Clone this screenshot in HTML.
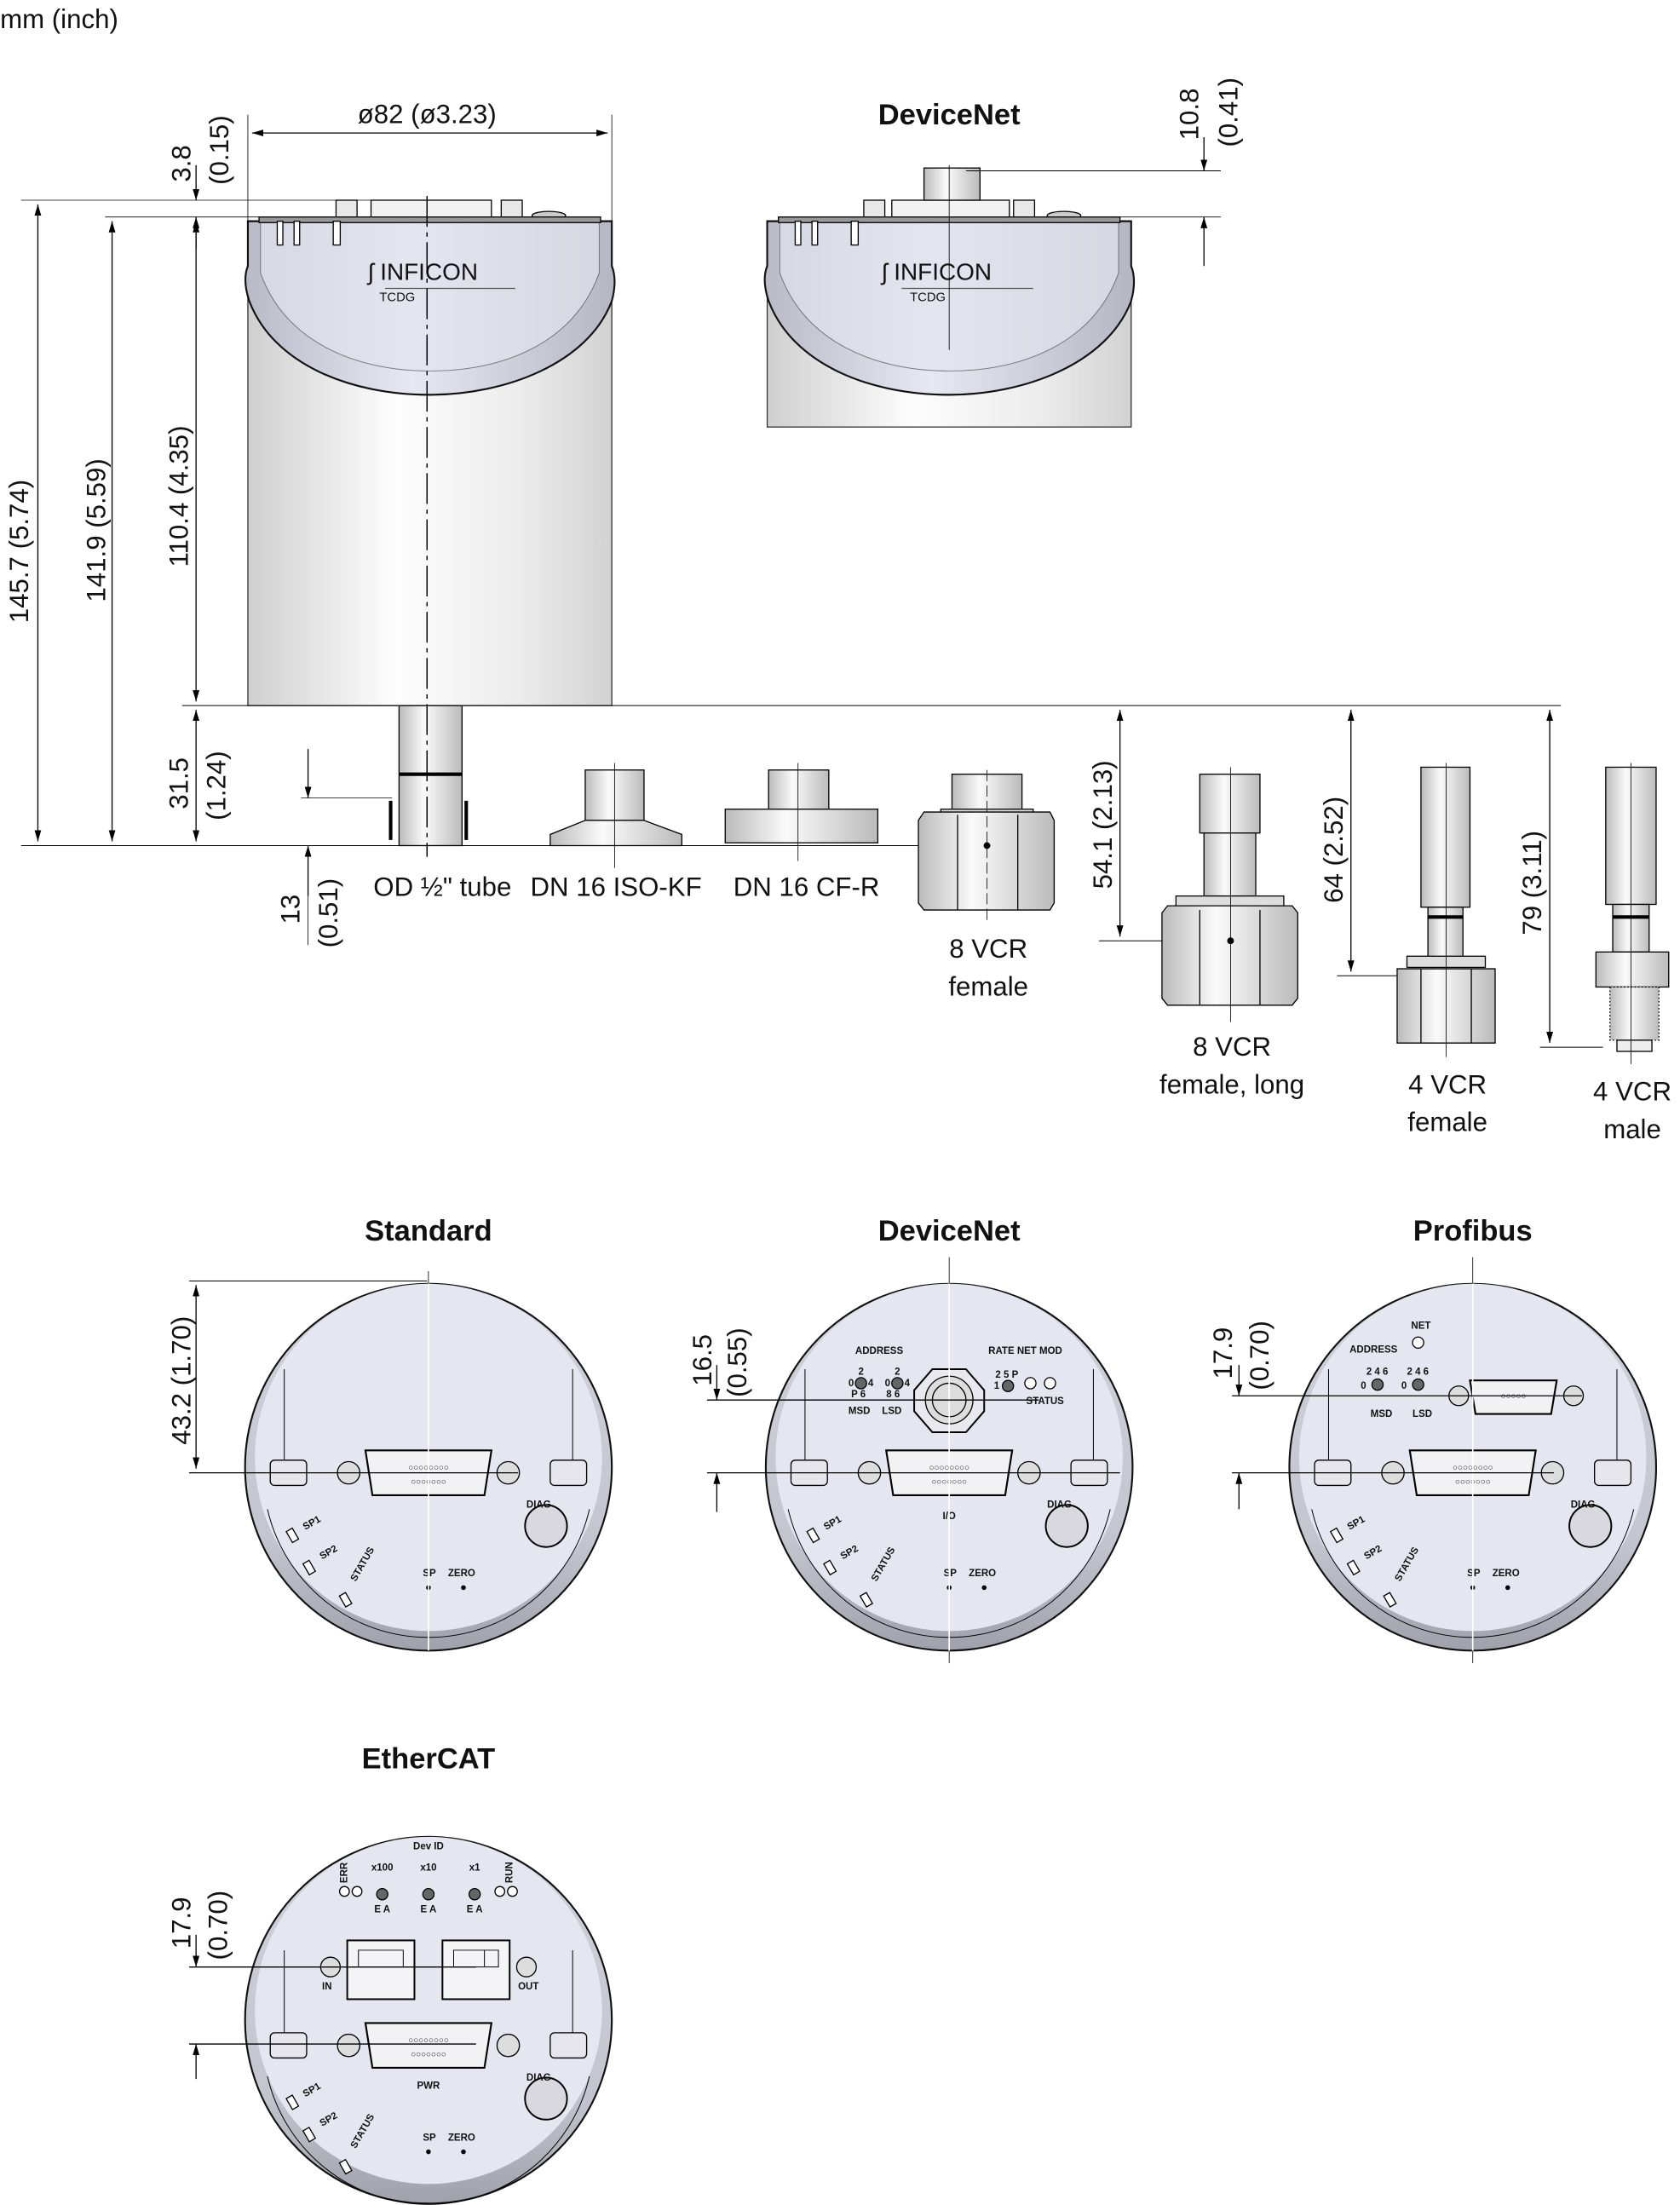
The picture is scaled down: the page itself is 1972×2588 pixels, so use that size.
<!DOCTYPE html>
<html><head><meta charset="utf-8"><style>
html,body{margin:0;padding:0;background:#fff}
svg{display:block}
text{font-family:"Liberation Sans",sans-serif;fill:#111}
.d{font-size:19px}
.t{font-size:21px;font-weight:bold}
.s{font-size:7px;font-weight:bold}
</style></head><body>
<svg width="1972" height="2588" viewBox="0 0 1200 1575" xmlns="http://www.w3.org/2000/svg">
<defs>
<linearGradient id="bd" x1="0" x2="1" y1="0" y2="0"><stop offset="0" stop-color="#cfcfcf"/><stop offset=".4" stop-color="#fdfdfd"/><stop offset=".75" stop-color="#ececec"/><stop offset="1" stop-color="#d2d2d2"/></linearGradient>
<linearGradient id="cp" x1="0" x2="1" y1="0" y2="0"><stop offset="0" stop-color="#b8bac6"/><stop offset=".45" stop-color="#e6e8f2"/><stop offset="1" stop-color="#b4b6c2"/></linearGradient>
<linearGradient id="tb" x1="0" x2="1" y1="0" y2="0"><stop offset="0" stop-color="#bbb"/><stop offset=".4" stop-color="#fafafa"/><stop offset="1" stop-color="#bbb"/></linearGradient>
<linearGradient id="fr" x1="0" x2="0" y1="0" y2="1"><stop offset="0" stop-color="#d0d1da"/><stop offset=".7" stop-color="#c4c5ce"/><stop offset="1" stop-color="#a0a1aa"/></linearGradient>
<marker id="a" viewBox="0 0 10 10" refX="10" refY="5" markerWidth="8" markerHeight="8" orient="auto-start-reverse" markerUnits="userSpaceOnUse"><path d="M0,2 L10,5 L0,8 z" fill="#000"/></marker>
</defs>
<g stroke="#000" stroke-width="0.8" fill="none">
<text x="0" y="20" class="d" stroke="none">mm (inch)</text>

<!-- main body -->
<rect x="177" y="158" width="260" height="346" fill="url(#bd)" stroke="#333"/>
<path d="M177,158 L437,158 L437,190 Q441,200 437,215 C420,260 360,282 307,282 C250,282 195,260 178,215 Q173,200 177,190 Z" fill="url(#cp)" stroke="#111" stroke-width="1.3"/>
<path d="M186,158 L428,158 L428,195 C410,245 360,265 307,265 C255,265 204,245 186,195 Z" fill="#e2e4ee" stroke="#555" stroke-width=".6" opacity=".7"/>
<rect x="265" y="143" width="86" height="13" fill="#f2f2f2"/>
<rect x="240" y="143" width="15" height="13" fill="#e8e8e8"/><rect x="358" y="143" width="15" height="13" fill="#e8e8e8"/>
<ellipse cx="392" cy="154" rx="12" ry="3" fill="#ccc"/>
<rect x="185" y="155" width="244" height="4" fill="#999"/>
<rect x="198" y="158" width="4" height="17" fill="#fff"/><rect x="210" y="158" width="4" height="17" fill="#fff"/><rect x="238" y="158" width="5" height="17" fill="#fff"/>
<text x="263" y="200" font-size="17" stroke="none" fill="#555">ʃ INFICON</text>
<line x1="275" y1="206" x2="368" y2="206" stroke="#555"/>
<text x="271" y="215" font-size="9" stroke="none" fill="#555">TCDG</text>
<!-- tube -->
<rect x="285" y="504" width="45" height="100" fill="url(#tb)"/>
<line x1="285" y1="553" x2="330" y2="553" stroke-width="2.5"/>
<line x1="279" y1="572" x2="279" y2="600" stroke-width="2.5"/><line x1="333" y1="572" x2="333" y2="600" stroke-width="2.5"/>
<line x1="305" y1="140" x2="305" y2="612" stroke-dasharray="22,4,3,4" stroke-width=".9"/>

<!-- dims main -->
<line x1="177" y1="82" x2="177" y2="158" stroke-width=".5"/><line x1="437" y1="82" x2="437" y2="158" stroke-width=".5"/>
<line x1="180" y1="95" x2="434" y2="95" marker-start="url(#a)" marker-end="url(#a)"/>
<text x="305" y="88" class="d" text-anchor="middle" stroke="none">ø82 (ø3.23)</text>
<line x1="15" y1="143" x2="265" y2="143" stroke-width=".5"/>
<line x1="75" y1="155" x2="185" y2="155" stroke-width=".5"/>
<line x1="140" y1="118" x2="140" y2="143" marker-end="url(#a)"/>
<line x1="140" y1="178" x2="140" y2="155" marker-end="url(#a)"/>
<text transform="translate(136,130) rotate(-90)" class="d" stroke="none">3.8</text>
<text transform="translate(163,132) rotate(-90)" class="d" stroke="none">(0.15)</text>
<line x1="27" y1="146" x2="27" y2="601" marker-start="url(#a)" marker-end="url(#a)"/>
<text transform="translate(20,445) rotate(-90)" class="d" stroke="none">145.7 (5.74)</text>
<line x1="80" y1="158" x2="80" y2="601" marker-start="url(#a)" marker-end="url(#a)"/>
<text transform="translate(75,430) rotate(-90)" class="d" stroke="none">141.9 (5.59)</text>
<line x1="140" y1="158" x2="140" y2="501" marker-start="url(#a)" marker-end="url(#a)"/>
<text transform="translate(134,405) rotate(-90)" class="d" stroke="none">110.4 (4.35)</text>
<line x1="140" y1="507" x2="140" y2="601" marker-start="url(#a)" marker-end="url(#a)"/>
<text transform="translate(134,578) rotate(-90)" class="d" stroke="none">31.5</text>
<text transform="translate(161,586) rotate(-90)" class="d" stroke="none">(1.24)</text>
<line x1="130" y1="504" x2="1115" y2="504" stroke-width=".6"/>
<line x1="15" y1="604" x2="705" y2="604" stroke-width=".6"/>
<line x1="215" y1="570" x2="280" y2="570" stroke-width=".5"/>
<line x1="220" y1="535" x2="220" y2="570" marker-end="url(#a)"/>
<line x1="220" y1="640" x2="220" y2="604" marker-end="url(#a)"/>
<line x1="220" y1="640" x2="220" y2="675" stroke-width=".5"/>
<text transform="translate(214,660) rotate(-90)" class="d" stroke="none">13</text>
<text transform="translate(241,677) rotate(-90)" class="d" stroke="none">(0.51)</text>
<text x="316" y="640" class="d" text-anchor="middle" stroke="none">OD ½" tube</text>
<text x="440" y="640" class="d" text-anchor="middle" stroke="none">DN 16 ISO-KF</text>
<text x="576" y="640" class="d" text-anchor="middle" stroke="none">DN 16 CF-R</text>

<!-- ISO-KF -->
<rect x="418" y="550" width="42" height="36" fill="url(#tb)"/>
<path d="M418,586 L460,586 L487,596 L487,604 L393,604 L393,596 Z" fill="url(#tb)"/>
<line x1="439" y1="545" x2="439" y2="620" stroke-width=".5"/>
<!-- CF-R -->
<rect x="549" y="550" width="43" height="29" fill="url(#tb)"/>
<rect x="518" y="578" width="109" height="24" fill="url(#tb)"/>
<line x1="570" y1="545" x2="570" y2="615" stroke-width=".5"/>
<!-- 8VCR female -->
<rect x="680" y="553" width="50" height="26" fill="url(#tb)"/>
<rect x="672" y="578" width="66" height="8" fill="#ddd"/>
<path d="M656,586 L660,580 L750,580 L753,586 L753,645 L750,650 L660,650 L656,645 Z" fill="url(#tb)"/>
<line x1="684" y1="582" x2="684" y2="650"/><line x1="727" y1="582" x2="727" y2="650"/>
<circle cx="705" cy="604" r="2" fill="#000"/>
<line x1="705" y1="550" x2="705" y2="660" stroke-width=".5" stroke-dasharray="8,3"/>
<text x="706" y="684" class="d" text-anchor="middle" stroke="none">8 VCR</text>
<text x="706" y="711" class="d" text-anchor="middle" stroke="none">female</text>

<!-- 54.1 -->
<line x1="800" y1="507" x2="800" y2="669" marker-start="url(#a)" marker-end="url(#a)"/>
<line x1="785" y1="672" x2="880" y2="672" stroke-width=".6"/>
<text transform="translate(794,635) rotate(-90)" class="d" stroke="none">54.1 (2.13)</text>
<rect x="857" y="553" width="43" height="42" fill="url(#tb)"/>
<rect x="860" y="595" width="37" height="45" fill="url(#tb)"/>
<rect x="840" y="640" width="77" height="8" fill="#ddd"/>
<path d="M830,652 L834,647 L923,647 L927,652 L927,713 L923,718 L834,718 L830,713 Z" fill="url(#tb)"/>
<line x1="857" y1="650" x2="857" y2="718"/><line x1="900" y1="650" x2="900" y2="718"/>
<circle cx="879" cy="672" r="2" fill="#000"/>
<line x1="879" y1="548" x2="879" y2="730" stroke-width=".5"/>
<text x="880" y="754" class="d" text-anchor="middle" stroke="none">8 VCR</text>
<text x="880" y="781" class="d" text-anchor="middle" stroke="none">female, long</text>

<!-- 64 -->
<line x1="965" y1="507" x2="965" y2="694" marker-start="url(#a)" marker-end="url(#a)"/>
<line x1="955" y1="697" x2="1050" y2="697" stroke-width=".6"/>
<text transform="translate(959,645) rotate(-90)" class="d" stroke="none">64 (2.52)</text>
<rect x="1015" y="548" width="35" height="100" fill="url(#tb)"/>
<rect x="1020" y="648" width="25" height="36" fill="url(#tb)"/>
<line x1="1020" y1="655" x2="1045" y2="655" stroke-width="2.5"/>
<rect x="1005" y="683" width="56" height="8" fill="#ddd"/>
<path d="M998,692 L1068,692 L1068,745 L998,745 Z" fill="url(#tb)"/>
<line x1="1015" y1="692" x2="1015" y2="745"/><line x1="1051" y1="692" x2="1051" y2="745"/>
<line x1="1033" y1="545" x2="1033" y2="755" stroke-width=".5"/>
<text x="1034" y="781" class="d" text-anchor="middle" stroke="none">4 VCR</text>
<text x="1034" y="808" class="d" text-anchor="middle" stroke="none">female</text>

<!-- 79 -->
<line x1="1107" y1="507" x2="1107" y2="745" marker-start="url(#a)" marker-end="url(#a)"/>
<line x1="1100" y1="748" x2="1145" y2="748" stroke-width=".6"/>
<text transform="translate(1101,668) rotate(-90)" class="d" stroke="none">79 (3.11)</text>
<rect x="1147" y="548" width="36" height="98" fill="url(#tb)"/>
<rect x="1152" y="646" width="26" height="34" fill="url(#tb)"/>
<line x1="1152" y1="655" x2="1178" y2="655" stroke-width="2.5"/>
<rect x="1140" y="680" width="52" height="25" fill="url(#tb)"/>
<rect x="1150" y="705" width="35" height="38" fill="url(#tb)" stroke-dasharray="1,1.5"/>
<rect x="1155" y="743" width="25" height="8" fill="#eee"/>
<line x1="1165" y1="545" x2="1165" y2="760" stroke-width=".5"/>
<text x="1166" y="786" class="d" text-anchor="middle" stroke="none">4 VCR</text>
<text x="1166" y="813" class="d" text-anchor="middle" stroke="none">male</text>

<!-- DeviceNet side -->
<text x="678" y="89" class="t" text-anchor="middle" stroke="none">DeviceNet</text>
<rect x="548" y="158" width="260" height="147" fill="url(#bd)" stroke="#333"/>
<path d="M548,158 L808,158 L808,190 Q812,200 808,215 C791,260 731,282 678,282 C621,282 566,260 549,215 Q544,200 548,190 Z" fill="url(#cp)" stroke="#111" stroke-width="1.3"/>
<path d="M557,158 L799,158 L799,195 C781,245 731,265 678,265 C626,265 575,245 557,195 Z" fill="#e2e4ee" stroke="#555" stroke-width=".6" opacity=".7"/>
<rect x="637" y="143" width="84" height="13" fill="#f2f2f2"/>
<rect x="617" y="143" width="15" height="13" fill="#e8e8e8"/><rect x="724" y="143" width="15" height="13" fill="#e8e8e8"/>
<rect x="660" y="120" width="40" height="23" fill="url(#tb)"/>
<ellipse cx="760" cy="154" rx="12" ry="3" fill="#ccc"/>
<rect x="556" y="155" width="244" height="4" fill="#999"/>
<rect x="568" y="158" width="4" height="17" fill="#fff"/><rect x="580" y="158" width="4" height="17" fill="#fff"/><rect x="608" y="158" width="5" height="17" fill="#fff"/>
<text x="630" y="200" font-size="17" stroke="none" fill="#555">ʃ INFICON</text>
<line x1="644" y1="206" x2="738" y2="206" stroke="#555"/>
<text x="650" y="215" font-size="9" stroke="none" fill="#555">TCDG</text>
<line x1="678" y1="118" x2="678" y2="250" stroke-width=".5"/>
<line x1="690" y1="122" x2="872" y2="122" stroke-width=".6"/>
<line x1="795" y1="155" x2="872" y2="155" stroke-width=".6"/>
<line x1="860" y1="98" x2="860" y2="122" marker-end="url(#a)"/>
<line x1="860" y1="190" x2="860" y2="155" marker-end="url(#a)"/>
<text transform="translate(856,100) rotate(-90)" class="d" stroke="none">10.8</text>
<text transform="translate(884,105) rotate(-90)" class="d" stroke="none">(0.41)</text>

<!-- ===== front views ===== -->
<text x="306" y="886" class="t" text-anchor="middle" stroke="none">Standard</text>
<text x="678" y="886" class="t" text-anchor="middle" stroke="none">DeviceNet</text>
<text x="1052" y="886" class="t" text-anchor="middle" stroke="none">Profibus</text>
<text x="306" y="1263" class="t" text-anchor="middle" stroke="none">EtherCAT</text>

<!-- Standard base -->
<g transform="translate(306,1048)">
<circle r="131" fill="url(#fr)" stroke="#111" stroke-width="1.3"/>
<circle cy="-7" r="124" fill="#e5e6ef" stroke="none"/>
<path d="M-103,-70 L-103,-5 M103,-70 L103,-5" stroke-width=".6"/>
<path d="M-115,30 A118,118 0 0 0 115,30" stroke-width=".6"/>
<rect x="-113" y="-5" width="26" height="18" rx="3" fill="#e6e6ec"/><rect x="87" y="-5" width="26" height="18" rx="3" fill="#e6e6ec"/>
<path d="M-45,-12 L45,-12 L40,20 L-40,20 Z" fill="#f2f2f4" stroke-width="1.3"/>
<circle cx="-57" cy="4" r="8" fill="#ddd"/><circle cx="57" cy="4" r="8" fill="#ddd"/>
<text x="0" y="2" font-size="6" text-anchor="middle" stroke="none">○○○○○○○○</text><text x="0" y="12" font-size="6" text-anchor="middle" stroke="none">○○○○○○○</text>
<circle cx="84" cy="42" r="15" fill="#d8d8de" stroke-width="1.2"/><text x="70" y="29" class="s" stroke="none">DIAG</text>
<rect x="-100" y="44" width="5" height="9" transform="rotate(-30 -97 48)" fill="#fff"/>
<rect x="-88" y="67" width="5" height="9" transform="rotate(-30 -85 71)" fill="#fff"/>
<rect x="-62" y="90" width="5" height="9" transform="rotate(-30 -59 94)" fill="#fff"/>
<text transform="translate(-88,45) rotate(-30)" class="s" stroke="none">SP1</text>
<text transform="translate(-76,66) rotate(-30)" class="s" stroke="none">SP2</text>
<text transform="translate(-52,82) rotate(-60)" class="s" stroke="none">STATUS</text>
<text x="-4" y="78" class="s" stroke="none">SP</text><text x="14" y="78" class="s" stroke="none">ZERO</text>
<circle cx="0" cy="86" r="1.3" fill="#000"/><circle cx="25" cy="86" r="1.3" fill="#000"/>
<line x1="0" y1="-140" x2="0" y2="131" stroke="#fff" stroke-width="1"/><line x1="0" y1="-140" x2="0" y2="-131" stroke-width=".5"/>
</g>
<line x1="135" y1="915" x2="305" y2="915" stroke-width=".6"/>
<line x1="135" y1="1052" x2="370" y2="1052" stroke-width=".8"/>
<line x1="140" y1="918" x2="140" y2="1049" marker-start="url(#a)" marker-end="url(#a)"/>
<text transform="translate(136,1032) rotate(-90)" class="d" stroke="none">43.2 (1.70)</text>

<!-- DeviceNet front -->
<g transform="translate(678,1048)">
<circle r="131" fill="url(#fr)" stroke="#111" stroke-width="1.3"/>
<circle cy="-7" r="124" fill="#e5e6ef" stroke="none"/>
<path d="M-103,-70 L-103,-5 M103,-70 L103,-5" stroke-width=".6"/>
<path d="M-115,30 A118,118 0 0 0 115,30" stroke-width=".6"/>
<rect x="-113" y="-5" width="26" height="18" rx="3" fill="#e6e6ec"/><rect x="87" y="-5" width="26" height="18" rx="3" fill="#e6e6ec"/>
<path d="M-45,-12 L45,-12 L40,20 L-40,20 Z" fill="#f2f2f4" stroke-width="1.3"/>
<circle cx="-57" cy="4" r="8" fill="#ddd"/><circle cx="57" cy="4" r="8" fill="#ddd"/>
<text x="0" y="2" font-size="6" text-anchor="middle" stroke="none">○○○○○○○○</text><text x="0" y="12" font-size="6" text-anchor="middle" stroke="none">○○○○○○○</text>
<circle cx="84" cy="42" r="15" fill="#d8d8de" stroke-width="1.2"/><text x="70" y="29" class="s" stroke="none">DIAG</text>
<text x="0" y="37" class="s" text-anchor="middle" stroke="none">I/O</text>
<rect x="-100" y="44" width="5" height="9" transform="rotate(-30 -97 48)" fill="#fff"/>
<rect x="-88" y="67" width="5" height="9" transform="rotate(-30 -85 71)" fill="#fff"/>
<rect x="-62" y="90" width="5" height="9" transform="rotate(-30 -59 94)" fill="#fff"/>
<text transform="translate(-88,45) rotate(-30)" class="s" stroke="none">SP1</text>
<text transform="translate(-76,66) rotate(-30)" class="s" stroke="none">SP2</text>
<text transform="translate(-52,82) rotate(-60)" class="s" stroke="none">STATUS</text>
<text x="-4" y="78" class="s" stroke="none">SP</text><text x="14" y="78" class="s" stroke="none">ZERO</text>
<circle cx="0" cy="86" r="1.3" fill="#000"/><circle cx="25" cy="86" r="1.3" fill="#000"/>
<path d="M-12,-70 L12,-70 L25,-55 L25,-40 L12,-25 L-12,-25 L-25,-40 L-25,-55 Z" fill="#e8e8ee" stroke-width="1.2"/>
<circle cx="0" cy="-48" r="17" fill="#ddd"/><circle cx="0" cy="-48" r="12"/>
<text x="-50" y="-81" class="s" text-anchor="middle" stroke="none">ADDRESS</text>
<circle cx="-63" cy="-60" r="4" fill="#666"/><circle cx="-37" cy="-60" r="4" fill="#666"/>
<text x="-63" y="-66" class="s" text-anchor="middle" stroke="none">2</text><text x="-37" y="-66" class="s" text-anchor="middle" stroke="none">2</text>
<text x="-72" y="-58" class="s" stroke="none">0</text><text x="-58" y="-58" class="s" stroke="none">4</text>
<text x="-46" y="-58" class="s" stroke="none">0</text><text x="-32" y="-58" class="s" stroke="none">4</text>
<text x="-70" y="-50" class="s" stroke="none">P  6</text><text x="-45" y="-50" class="s" stroke="none">8  6</text>
<text x="-72" y="-38" class="s" stroke="none">MSD</text><text x="-48" y="-38" class="s" stroke="none">LSD</text>
<text x="28" y="-81" class="s" stroke="none">RATE  NET  MOD</text>
<circle cx="42" cy="-58" r="4" fill="#666"/><text x="33" y="-64" class="s" stroke="none">2 5 P</text><text x="32" y="-56" class="s" stroke="none">1</text>
<circle cx="58" cy="-60" r="4" fill="#fff"/><circle cx="72" cy="-60" r="4" fill="#fff"/>
<text x="55" y="-45" class="s" stroke="none">STATUS</text>
<line x1="0" y1="-150" x2="0" y2="140" stroke="#fff" stroke-width="1"/><line x1="0" y1="-150" x2="0" y2="-131" stroke-width=".5"/><line x1="0" y1="131" x2="0" y2="140" stroke-width=".5"/>
</g>
<line x1="505" y1="1000" x2="742" y2="1000" stroke-width=".8"/>
<line x1="505" y1="1052" x2="800" y2="1052" stroke-width=".8"/>
<line x1="512" y1="975" x2="512" y2="1000" marker-end="url(#a)"/>
<line x1="512" y1="1080" x2="512" y2="1052" marker-end="url(#a)"/>
<text transform="translate(508,990) rotate(-90)" class="d" stroke="none">16.5</text>
<text transform="translate(533,998) rotate(-90)" class="d" stroke="none">(0.55)</text>

<!-- Profibus front -->
<g transform="translate(1052,1048)">
<circle r="131" fill="url(#fr)" stroke="#111" stroke-width="1.3"/>
<circle cy="-7" r="124" fill="#e5e6ef" stroke="none"/>
<path d="M-103,-70 L-103,-5 M103,-70 L103,-5" stroke-width=".6"/>
<path d="M-115,30 A118,118 0 0 0 115,30" stroke-width=".6"/>
<rect x="-113" y="-5" width="26" height="18" rx="3" fill="#e6e6ec"/><rect x="87" y="-5" width="26" height="18" rx="3" fill="#e6e6ec"/>
<path d="M-45,-12 L45,-12 L40,20 L-40,20 Z" fill="#f2f2f4" stroke-width="1.3"/>
<circle cx="-57" cy="4" r="8" fill="#ddd"/><circle cx="57" cy="4" r="8" fill="#ddd"/>
<text x="0" y="2" font-size="6" text-anchor="middle" stroke="none">○○○○○○○○</text><text x="0" y="12" font-size="6" text-anchor="middle" stroke="none">○○○○○○○</text>
<circle cx="84" cy="42" r="15" fill="#d8d8de" stroke-width="1.2"/><text x="70" y="29" class="s" stroke="none">DIAG</text>
<rect x="-100" y="44" width="5" height="9" transform="rotate(-30 -97 48)" fill="#fff"/>
<rect x="-88" y="67" width="5" height="9" transform="rotate(-30 -85 71)" fill="#fff"/>
<rect x="-62" y="90" width="5" height="9" transform="rotate(-30 -59 94)" fill="#fff"/>
<text transform="translate(-88,45) rotate(-30)" class="s" stroke="none">SP1</text>
<text transform="translate(-76,66) rotate(-30)" class="s" stroke="none">SP2</text>
<text transform="translate(-52,82) rotate(-60)" class="s" stroke="none">STATUS</text>
<text x="-4" y="78" class="s" stroke="none">SP</text><text x="14" y="78" class="s" stroke="none">ZERO</text>
<circle cx="0" cy="86" r="1.3" fill="#000"/><circle cx="25" cy="86" r="1.3" fill="#000"/>
<path d="M-2,-62 L60,-62 L56,-38 L2,-38 Z" fill="#f2f2f4" stroke-width="1.3"/>
<circle cx="-10" cy="-51" r="7" fill="#ddd"/><circle cx="72" cy="-51" r="7" fill="#ddd"/>
<text x="29" y="-49" font-size="6" text-anchor="middle" stroke="none">○○○○○</text>
<text x="-44" y="-99" class="s" stroke="none">NET</text><circle cx="-39" cy="-89" r="4" fill="#fff"/>
<text x="-88" y="-82" class="s" stroke="none">ADDRESS</text>
<circle cx="-68" cy="-59" r="4" fill="#666"/><circle cx="-39" cy="-59" r="4" fill="#666"/>
<text x="-76" y="-66" class="s" stroke="none">2 4 6</text><text x="-47" y="-66" class="s" stroke="none">2 4 6</text>
<text x="-80" y="-56" class="s" stroke="none">0</text><text x="-51" y="-56" class="s" stroke="none">0</text>
<text x="-73" y="-36" class="s" stroke="none">MSD</text><text x="-43" y="-36" class="s" stroke="none">LSD</text>
<line x1="0" y1="-150" x2="0" y2="140" stroke="#fff" stroke-width="1"/><line x1="0" y1="-150" x2="0" y2="-131" stroke-width=".5"/><line x1="0" y1="131" x2="0" y2="140" stroke-width=".5"/>
</g>
<line x1="880" y1="997" x2="1130" y2="997" stroke-width=".8"/>
<line x1="880" y1="1052" x2="1110" y2="1052" stroke-width=".8"/>
<line x1="885" y1="975" x2="885" y2="997" marker-end="url(#a)"/>
<line x1="885" y1="1078" x2="885" y2="1052" marker-end="url(#a)"/>
<text transform="translate(880,985) rotate(-90)" class="d" stroke="none">17.9</text>
<text transform="translate(906,993) rotate(-90)" class="d" stroke="none">(0.70)</text>

<!-- EtherCAT front -->
<g transform="translate(306,1443)">
<circle r="131" fill="url(#fr)" stroke="#111" stroke-width="1.3"/>
<circle cy="-7" r="124" fill="#e5e6ef" stroke="none"/>
<path d="M-103,-50 L-103,10 M103,-50 L103,10" stroke-width=".6"/>
<path d="M-115,40 A118,118 0 0 0 115,40" stroke-width=".6"/>
<rect x="-113" y="9" width="26" height="18" rx="3" fill="#e6e6ec"/><rect x="87" y="9" width="26" height="18" rx="3" fill="#e6e6ec"/>
<path d="M-45,2 L45,2 L40,34 L-40,34 Z" fill="#f2f2f4" stroke-width="1.3"/>
<circle cx="-57" cy="18" r="8" fill="#ddd"/><circle cx="57" cy="18" r="8" fill="#ddd"/>
<text x="0" y="16" font-size="6" text-anchor="middle" stroke="none">○○○○○○○○</text><text x="0" y="26" font-size="6" text-anchor="middle" stroke="none">○○○○○○○</text>
<text x="0" y="49" class="s" text-anchor="middle" stroke="none">PWR</text>
<circle cx="84" cy="56" r="15" fill="#d8d8de" stroke-width="1.2"/><text x="70" y="43" class="s" stroke="none">DIAG</text>
<rect x="-100" y="54" width="5" height="9" transform="rotate(-30 -97 58)" fill="#fff"/>
<rect x="-88" y="77" width="5" height="9" transform="rotate(-30 -85 81)" fill="#fff"/>
<rect x="-62" y="100" width="5" height="9" transform="rotate(-30 -59 104)" fill="#fff"/>
<text transform="translate(-88,55) rotate(-30)" class="s" stroke="none">SP1</text>
<text transform="translate(-76,76) rotate(-30)" class="s" stroke="none">SP2</text>
<text transform="translate(-52,92) rotate(-60)" class="s" stroke="none">STATUS</text>
<text x="-4" y="86" class="s" stroke="none">SP</text><text x="14" y="86" class="s" stroke="none">ZERO</text>
<circle cx="0" cy="94" r="1.3" fill="#000"/><circle cx="25" cy="94" r="1.3" fill="#000"/>
<rect x="-58" y="-57" width="48" height="42" fill="#f4f4f6" stroke-width="1.2"/><rect x="10" y="-57" width="48" height="42" fill="#f4f4f6" stroke-width="1.2"/>
<path d="M-50,-50 L-18,-50 L-18,-38 L-50,-38 Z M40,-50 L40,-38 M18,-50 L50,-50 L50,-38 L18,-38 Z" stroke-width=".6"/>
<circle cx="-70" cy="-38" r="7" fill="#ddd"/><circle cx="70" cy="-38" r="7" fill="#ddd"/>
<text x="-76" y="-22" class="s" stroke="none">IN</text><text x="64" y="-22" class="s" stroke="none">OUT</text>
<text x="0" y="-122" class="s" text-anchor="middle" stroke="none">Dev ID</text>
<text x="-33" y="-107" class="s" text-anchor="middle" stroke="none">x100</text><text x="0" y="-107" class="s" text-anchor="middle" stroke="none">x10</text><text x="33" y="-107" class="s" text-anchor="middle" stroke="none">x1</text>
<circle cx="-33" cy="-90" r="4" fill="#666"/><circle cx="0" cy="-90" r="4" fill="#666"/><circle cx="33" cy="-90" r="4" fill="#666"/>
<text x="-33" y="-77" class="s" text-anchor="middle" stroke="none">E  A</text><text x="0" y="-77" class="s" text-anchor="middle" stroke="none">E  A</text><text x="33" y="-77" class="s" text-anchor="middle" stroke="none">E  A</text>
<circle cx="-60" cy="-92" r="3.5" fill="#fff"/><circle cx="-51" cy="-92" r="3.5" fill="#fff"/>
<circle cx="51" cy="-92" r="3.5" fill="#fff"/><circle cx="60" cy="-92" r="3.5" fill="#fff"/>
<text transform="translate(-58,-98) rotate(-90)" class="s" stroke="none">ERR</text>
<text transform="translate(60,-98) rotate(-90)" class="s" stroke="none">RUN</text>
</g>
<line x1="135" y1="1405" x2="340" y2="1405" stroke-width=".8"/>
<line x1="135" y1="1460" x2="340" y2="1460" stroke-width=".8"/>
<line x1="140" y1="1382" x2="140" y2="1405" marker-end="url(#a)"/>
<line x1="140" y1="1485" x2="140" y2="1460" marker-end="url(#a)"/>
<text transform="translate(136,1392) rotate(-90)" class="d" stroke="none">17.9</text>
<text transform="translate(162,1400) rotate(-90)" class="d" stroke="none">(0.70)</text>
</g>
</svg>
</body></html>
